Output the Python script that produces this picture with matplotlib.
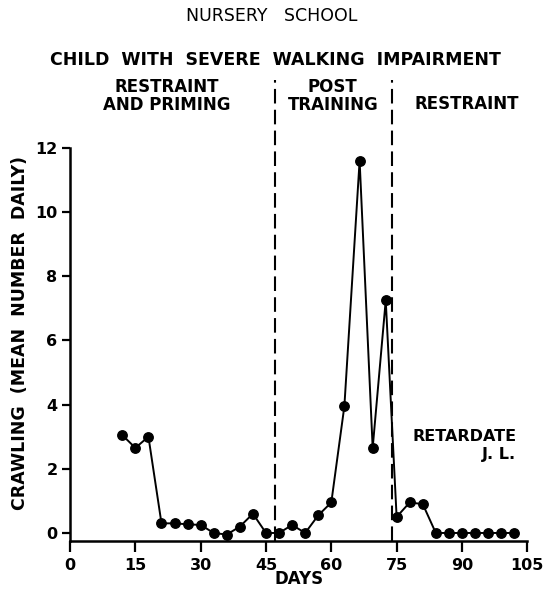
import matplotlib
matplotlib.use("Agg")
import matplotlib.pyplot as plt

# session days and mean daily crawling
days = [12, 15, 18, 21, 24, 27, 30, 33, 36, 39, 42, 45, 48, 51, 54, 57,
        60, 63, 66.5, 69.5, 72.5, 75, 78, 81, 84, 87, 90, 93, 96, 99, 102]
crawls = [3.05, 2.65, 3.0, 0.3, 0.3, 0.27, 0.25, 0.0, -0.05, 0.2, 0.6,
          0.0, 0.0, 0.25, 0.0, 0.55, 0.95, 3.95, 11.6, 2.65, 7.25, 0.5,
          0.95, 0.9, 0.0, 0.0, 0.0, 0.0, 0.0, 0.0, 0.0]

phase_edges = [47, 74]
x_ticks = [0, 15, 30, 45, 60, 75, 90, 105]
y_ticks = [0, 2, 4, 6, 8, 10, 12]

plt.rcParams['font.family'] = ['DejaVu Sans']

fig = plt.figure(figsize=(5.43, 5.89), dpi=100)
ax = fig.add_axes([0.129, 0.0815, 0.842, 0.6675])

ax.plot(days, crawls, color='black', lw=1.4, marker='o', ms=6.8,
        clip_on=False, zorder=3)

for d in phase_edges:
    ax.plot([d, d], [-0.25, 14.1], color='black', lw=1.5,
            dashes=(7, 3), clip_on=False)

ax.set_xlim(0, 105)
ax.set_ylim(-0.25, 12)
ax.set_xticks(x_ticks)
ax.set_yticks(y_ticks)
ax.spines['top'].set_visible(False)
ax.spines['right'].set_visible(False)
for s in ('left', 'bottom'):
    ax.spines[s].set_linewidth(1.8)
ax.tick_params(axis='both', direction='out', width=1.6, labelsize=11.5)
ax.tick_params(axis='x', length=8, pad=4)
ax.tick_params(axis='y', length=6, pad=3)
for lab in ax.get_xticklabels() + ax.get_yticklabels():
    lab.set_fontweight('bold')

ax.set_xlabel("DAYS", fontsize=12, fontweight='bold')
ax.xaxis.set_label_coords(0.5, -0.075)
ax.set_ylabel("CRAWLING  (MEAN  NUMBER  DAILY)", fontsize=12.5,
              fontweight='bold')
ax.yaxis.set_label_coords(-0.09, 0.53)

fig.text(0.501, 0.9735, "NURSERY   SCHOOL", ha='center', va='center',
         fontsize=12.5)
fig.text(0.508, 0.898, "CHILD  WITH  SEVERE  WALKING  IMPAIRMENT",
         ha='center', va='center', fontsize=12.5, fontweight='bold')
fig.text(0.3076, 0.837, "RESTRAINT\nAND PRIMING", ha='center',
         va='center', fontsize=12, fontweight='bold', linespacing=1.0)
fig.text(0.613, 0.837, "POST\nTRAINING", ha='center', va='center',
         fontsize=12, fontweight='bold', linespacing=1.0)
fig.text(0.86, 0.823, "RESTRAINT", ha='center', va='center',
         fontsize=12, fontweight='bold')

ax.text(102.5, 3.0, "RETARDATE", ha='right', va='center', fontsize=11.5,
        fontweight='bold')
ax.text(102.5, 2.45, "J. L.", ha='right', va='center', fontsize=11.5,
        fontweight='bold')

fig.savefig("out.png", dpi=100)
